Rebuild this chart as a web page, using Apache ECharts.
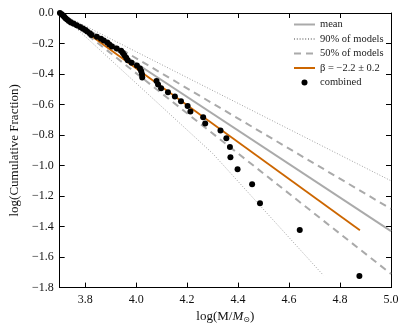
<!doctype html>
<html>
<head>
<meta charset="UTF-8">
<title>log cumulative fraction</title>
<script src="https://cdn.jsdelivr.net/npm/echarts@6/dist/echarts.min.js"></script>
<style>
  html, body { margin: 0; padding: 0; background: #fff; }
  #main { width: 405px; height: 329px; }
</style>
</head>
<body>
<div id="main"></div>
<script>
// combined sample
var combX = [3.701, 3.708, 3.713, 3.718, 3.723, 3.729, 3.736, 3.744, 3.755, 3.767,
             3.780, 3.791, 3.801, 3.808, 3.818, 3.825, 3.846, 3.862, 3.873, 3.887,
             3.895, 3.905, 3.924, 3.941, 3.948, 3.954, 3.961, 3.967, 3.982, 4.003,
             4.015, 4.020, 4.023, 4.024, 4.080, 4.086, 4.098, 4.125, 4.152, 4.176,
             4.202, 4.213, 4.263, 4.271, 4.331, 4.354, 4.368, 4.370, 4.398, 4.455,
             4.486, 4.642, 4.876];
var combY = [0.000, -0.008, -0.017, -0.025, -0.034, -0.043, -0.052, -0.062, -0.071, -0.081,
             -0.091, -0.101, -0.112, -0.122, -0.133, -0.145, -0.156, -0.168, -0.180, -0.193,
             -0.206, -0.219, -0.233, -0.247, -0.262, -0.277, -0.293, -0.309, -0.326, -0.344,
             -0.363, -0.382, -0.402, -0.423, -0.446, -0.469, -0.494, -0.520, -0.548, -0.578,
             -0.610, -0.645, -0.683, -0.724, -0.770, -0.821, -0.879, -0.946, -1.025, -1.122,
             -1.247, -1.423, -1.724];

var meanX = [3.7, 5.0];
var meanY = [0.0, -1.43];
var p90hiX = [3.7, 5.0];
var p90hiY = [0.0, -1.10];
var p90loX = [3.7, 4.3, 4.735];
var p90loY = [0.0, -0.92, -1.72];
var p50hiX = [3.7, 5.0];
var p50hiY = [0.0, -1.284];
var p50loX = [3.7, 5.0];
var p50loY = [0.0, -1.71];
var fitX = [3.7, 4.878];
var fitY = [0.0, -1.424];

var xTicks = [3.8, 4.0, 4.2, 4.4, 4.6, 4.8, 5.0];

function pairs(xs, ys) {
    var out = [];
    for (var i = 0; i < xs.length; i++) out.push([xs[i], ys[i]]);
    return out;
}

var serif = 'Liberation Serif';
var noMark = { opacity: 0 };
var myChart = echarts.init(document.getElementById('main'));

option = {
    animation: false,
    textStyle: { fontFamily: serif },
    grid: { left: 56, right: 14, top: 13, bottom: 41 },
    legend: {
        orient: 'vertical',
        left: 288,
        top: 14,
        itemWidth: 21,
        itemHeight: 6,
        itemGap: 3.5,
        textStyle: { fontFamily: serif, fontSize: 10.5, color: '#222', lineHeight: 10.5 },
        data: [
            { name: 'mean', itemStyle: noMark },
            { name: '90% of models', itemStyle: noMark },
            { name: '50% of models', itemStyle: noMark },
            { name: 'β = −2.2 ± 0.2', itemStyle: noMark },
            { name: 'combined' }
        ]
    },
    xAxis: [{
        type: 'value', min: 3.7, max: 5.0,
        name: 'log(M/{i|M}{s|⊙})',
        nameLocation: 'middle', nameGap: 20,
        nameTextStyle: {
            fontFamily: serif, fontSize: 13, color: '#111',
            rich: {
                i: { fontFamily: serif, fontSize: 13, fontStyle: 'italic', color: '#111' },
                s: { fontFamily: 'DejaVu Sans', fontSize: 8, color: '#111', verticalAlign: 'bottom', padding: [6, 0, 0, 0] }
            }
        },
        axisLine: { onZero: false, lineStyle: { color: '#000', width: 1 } },
        axisTick: { inside: true, length: 5, customValues: xTicks, lineStyle: { color: '#000' } },
        axisLabel: { customValues: xTicks, fontSize: 12, color: '#111', margin: 6,
                     formatter: function (v) { return v.toFixed(1); } },
        splitLine: { show: false }
    }, {
        type: 'value', min: 3.7, max: 5.0, position: 'top',
        axisLine: { onZero: false, lineStyle: { color: '#000', width: 1 } },
        axisTick: { inside: true, length: 5, customValues: xTicks, lineStyle: { color: '#000' } },
        axisLabel: { show: false },
        splitLine: { show: false }
    }],
    yAxis: [{
        type: 'value', min: -1.8, max: 0, interval: 0.2,
        name: 'log(Cumulative Fraction)',
        nameLocation: 'middle', nameGap: 36,
        nameTextStyle: { fontFamily: serif, fontSize: 13, color: '#111' },
        axisLine: { onZero: false, lineStyle: { color: '#000', width: 1 } },
        axisTick: { inside: true, length: 5, lineStyle: { color: '#000' } },
        axisLabel: { fontSize: 12, color: '#111', margin: 6,
                     formatter: function (v) { return v.toFixed(1).replace('-', '\u2212'); } },
        splitLine: { show: false }
    }, {
        type: 'value', min: -1.8, max: 0, interval: 0.2, position: 'right',
        axisLine: { onZero: false, lineStyle: { color: '#000', width: 1 } },
        axisTick: { inside: true, length: 5, lineStyle: { color: '#000' } },
        axisLabel: { show: false },
        splitLine: { show: false }
    }],
    series: [{
        name: 'mean', type: 'line', symbol: 'none', z: 2,
        lineStyle: { color: '#aaaaaa', width: 2 }, itemStyle: { color: '#aaaaaa' },
        data: pairs(meanX, meanY)
    }, {
        name: '90% of models', type: 'line', symbol: 'none', z: 1,
        lineStyle: { color: '#a0a0a0', width: 1, type: [1, 1.8] }, itemStyle: { color: '#a0a0a0' },
        data: pairs(p90hiX, p90hiY)
    }, {
        name: '90% of models', type: 'line', symbol: 'none', z: 1,
        lineStyle: { color: '#a0a0a0', width: 1, type: [1, 1.8] }, itemStyle: { color: '#a0a0a0' },
        data: pairs(p90loX, p90loY)
    }, {
        name: '50% of models', type: 'line', symbol: 'none', z: 1,
        lineStyle: { color: '#aaaaaa', width: 2, type: [7, 5] }, itemStyle: { color: '#aaaaaa' },
        data: pairs(p50hiX, p50hiY)
    }, {
        name: '50% of models', type: 'line', symbol: 'none', z: 1,
        lineStyle: { color: '#aaaaaa', width: 2, type: [7, 5] }, itemStyle: { color: '#aaaaaa' },
        data: pairs(p50loX, p50loY)
    }, {
        name: 'β = −2.2 ± 0.2', type: 'line', symbol: 'none', z: 3,
        lineStyle: { color: '#cc6600', width: 1.8 }, itemStyle: { color: '#cc6600' },
        data: pairs(fitX, fitY)
    }, {
        name: 'combined', type: 'scatter', symbol: 'circle', symbolSize: 6, z: 4,
        itemStyle: { color: '#000', opacity: 1 },
        data: pairs(combX, combY)
    }]
};

myChart.setOption(option);
</script>
</body>
</html>
